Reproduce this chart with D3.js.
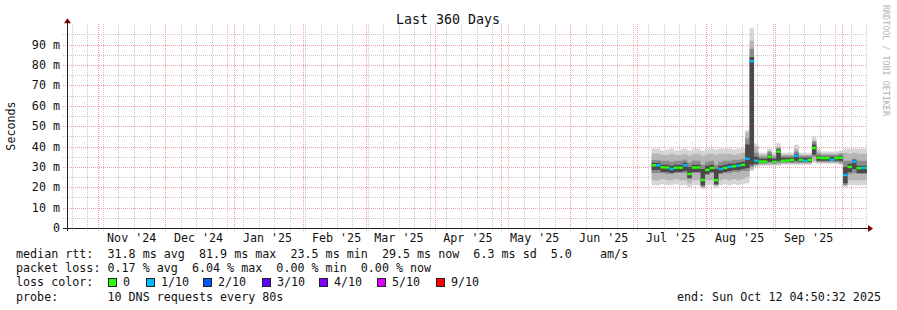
<!DOCTYPE html>
<html>
<head>
<meta charset="utf-8">
<script src="https://cdn.jsdelivr.net/npm/d3@7"></script>
<style>
  body { margin: 0; background: #fff; }
  svg { display: block; font-family: "DejaVu Sans Mono", monospace; }
  .pre { white-space: pre; }
</style>
</head>
<body>
<svg id="chart" width="897" height="310"></svg>
<script>
// two-day buckets starting 2025-07-07 12:00, values in ms
const bucketStart = Date.UTC(2025, 6, 7, 12);
const bucketDays = 2;

const median = [30.8, 30.8, 29.8, 29.7, 29.0, 29.6, 29.6, 30.8, 26.5, 29.7,
  29.7, 23.6, 28.5, 29.5, 23.5, 29.0, 29.5, 30.0, 30.3, 30.6,
  31.0, 34.0, 81.9, 33.0, 32.6, 32.6, 35.0, 32.5, 37.5, 33.0,
  33.1, 33.4, 35.5, 33.4, 33.0, 33.4, 39.3, 34.5, 34.3, 34.3,
  33.5, 34.3, 34.5, 26.0, 30.0, 32.6, 29.4, 29.5, 29.5];

// lost pings out of 10 per bucket (colour index)
const lossTenths = [0, 1, 0, 0, 1, 0, 0, 1, 0, 0,
  0, 0, 0, 0, 0, 1, 0, 1, 0, 1,
  0, 1, 1, 1, 0, 0, 0, 0, 0, 0,
  0, 0, 1, 0, 1, 0, 0, 0, 0, 0,
  1, 0, 0, 1, 0, 1, 0, 1, 0];

// smoke: outer (lightest), mid, inner and core bands
const outerLo = [21, 21, 21.5, 21, 21, 21.5, 21, 21, 20, 21,
  21, 19, 21, 21, 19.5, 21, 21.5, 21, 21.5, 21,
  21.5, 22, 28, 30, 30.5, 30.5, 30.5, 30.5, 30.5, 31,
  31, 31, 31, 31, 31, 31, 32, 31.5, 31.5, 31.5,
  31.5, 31.5, 31, 20, 21, 21, 21, 21, 21];
const outerHi = [39, 39, 38, 38.5, 39, 38, 38.5, 39, 38, 39,
  39, 38, 39, 39, 38.5, 39, 39, 39, 38.5, 39,
  39, 48, 98, 41.5, 37, 37, 39, 37, 41.6, 37,
  37, 37, 41, 37, 37, 37, 45, 39, 37.5, 37.5,
  37.5, 37.5, 38, 39, 39, 39, 39, 39, 39];
const midLo = [23.5, 23.5, 24, 23.5, 23.5, 24, 23.5, 23.5, 22, 23.5,
  23.5, 20.5, 23.5, 23.5, 21, 23.5, 24, 23.5, 24, 23.5,
  24, 25, 29, 30.5, 31, 31, 31, 31, 31, 31.5,
  31.5, 31.5, 31.5, 31.5, 31.5, 31.5, 33, 32, 32, 32,
  32, 32, 31.5, 21.5, 23.5, 23.5, 23.5, 23.5, 23.5];
const midHi = [36.5, 36.5, 36, 36, 36.5, 36, 36, 36.5, 35.5, 36.5,
  36.5, 35.5, 36.5, 36.5, 36, 36.5, 36.5, 36.5, 36, 36.5,
  37, 47, 92, 40, 36, 36, 37.5, 36, 39.5, 36,
  36, 36, 39, 36, 36, 36, 43, 37.5, 36.5, 36.5,
  36.5, 36.5, 37, 37, 36.5, 37, 36.5, 36.5, 36.5];
const innerLo = [27, 27, 27, 26.5, 26.5, 27, 27, 27, 24, 27,
  27, 20, 26, 27, 21, 26.5, 27, 27, 27.5, 27.5,
  28, 28, 30, 31, 31.5, 31.5, 32, 31.5, 32, 32,
  32, 32, 32, 32, 32, 32, 35, 32.5, 32.5, 32.5,
  32.5, 32.5, 32, 21, 26.5, 27, 26.5, 26.5, 26.5];
const innerHi = [33.4, 33.4, 33, 33, 32.5, 33, 33, 33.5, 32, 33,
  33, 31, 32.5, 33, 31, 32.5, 33, 33, 33.5, 33.5,
  34, 44, 88, 37, 35, 35, 37.5, 35, 39.5, 35.5,
  35.5, 35.5, 37.5, 35.5, 35.5, 35.5, 42.5, 36.5, 36, 36,
  36, 36, 36.5, 33, 33, 34, 33, 33, 33];
const coreLo = [28.5, 28.5, 27.5, 27.5, 27, 27.5, 27.5, 28, 24.5, 27.5,
  27.5, 21, 26.5, 27.5, 21.5, 27, 27.5, 28, 28.5, 28.5,
  29, 29.5, 31, 31.5, 32, 32, 32.5, 32, 33, 32.5,
  32.5, 32.5, 33, 32.5, 32.5, 32.5, 36, 33, 33, 33,
  33, 33, 33, 22, 27.5, 29, 27, 27, 27];
const coreHi = [32, 32, 31, 31, 30.5, 31, 31, 32, 30, 31,
  31, 29, 30.5, 31, 29, 30.5, 31, 31.5, 31.5, 32,
  32.5, 41, 84, 35, 34, 34, 36, 34, 38.5, 34.5,
  34.5, 34.5, 36.5, 34.5, 34.5, 34.5, 41, 35.5, 35, 35,
  35, 35, 35.5, 30, 31.5, 33.5, 30.5, 30.5, 30.5];

const lossLabels = ['0', '1/10', '2/10', '3/10', '4/10', '5/10', '9/10'];
const lossColors = ['#26ff00', '#00b8ff', '#0059ff', '#5e00ff', '#7e00ff', '#dd00ff', '#ff0000'];

const yTicks = [0, 10, 20, 30, 40, 50, 60, 70, 80, 90];

const legendLines = [
  'median rtt:  31.8 ms avg  81.9 ms max  23.5 ms min  29.5 ms now  6.3 ms sd  5.0    am/s',
  'packet loss: 0.17 % avg  6.04 % max  0.00 % min  0.00 % now',
  'loss color:',
  'probe:       10 DNS requests every 80s'
];
const endLabel = 'end: Sun Oct 12 04:50:32 2025';

const svg = d3.select('#chart');
const plot = { left: 67, right: 867, top: 24.3, bottom: 228 };

const x = d3.scaleUtc()
  .domain([new Date(Date.UTC(2024, 9, 17, 22, 30)), new Date(Date.UTC(2025, 9, 12, 5, 30))])
  .range([plot.left, plot.right]);
const y = d3.scaleLinear().domain([0, 100]).range([plot.bottom, plot.top]);

const dayMs = 86400000;
const rows = median.map((m, i) => ({
  t: new Date(bucketStart + i * bucketDays * dayMs),
  med: m, loss: lossTenths[i],
  oLo: outerLo[i], oHi: outerHi[i],
  mLo: midLo[i], mHi: midHi[i],
  iLo: innerLo[i], iHi: innerHi[i],
  cLo: coreLo[i], cHi: coreHi[i]
}));
// closing point for step curves
const last = rows[rows.length - 1];
const stepRows = rows.concat([Object.assign({}, last, { t: new Date(+last.t + bucketDays * dayMs) })]);

svg.append('defs').append('clipPath').attr('id', 'plotclip')
  .append('rect')
  .attr('x', plot.left).attr('y', plot.top)
  .attr('width', plot.right - plot.left).attr('height', plot.bottom - plot.top);

// grid
const grid = svg.append('g').attr('shape-rendering', 'crispEdges');
const minorY = d3.range(5, 100, 5).filter(v => v % 10 !== 0);
grid.selectAll('.hminor').data(minorY).join('line')
  .attr('x1', plot.left - 4).attr('x2', plot.right)
  .attr('y1', d => Math.round(y(d)) + 0.5).attr('y2', d => Math.round(y(d)) + 0.5)
  .attr('stroke', '#c8c8c8').attr('stroke-dasharray', '1,1');
const weeks = d3.utcSunday.range(x.domain()[0], x.domain()[1]);
grid.selectAll('.vminor').data(weeks).join('line')
  .attr('x1', d => Math.round(x(d)) + 0.5).attr('x2', d => Math.round(x(d)) + 0.5)
  .attr('y1', plot.bottom + 3).attr('y2', plot.top)
  .attr('stroke', '#c8c8c8').attr('stroke-dasharray', '1,1');
grid.selectAll('.hmajor').data(yTicks.slice(1)).join('line')
  .attr('x1', plot.left - 4).attr('x2', plot.right)
  .attr('y1', d => Math.round(y(d)) + 0.5).attr('y2', d => Math.round(y(d)) + 0.5)
  .attr('stroke', '#f0a0a0').attr('stroke-dasharray', '1,1');
const months = d3.utcMonth.range(x.domain()[0], x.domain()[1]);
grid.selectAll('.vmajor').data(months).join('line')
  .attr('x1', d => Math.round(x(d)) + 0.5).attr('x2', d => Math.round(x(d)) + 0.5)
  .attr('y1', plot.bottom + 3).attr('y2', plot.top)
  .attr('stroke', '#f0a0a0').attr('stroke-dasharray', '1,1');

// smoke
const smoke = svg.append('g').attr('clip-path', 'url(#plotclip)');
const band = (lo, hi) => d3.area()
  .curve(d3.curveStepAfter)
  .x(d => x(d.t)).y0(d => y(d[lo])).y1(d => y(d[hi]));
smoke.append('path').datum(stepRows).attr('d', band('oLo', 'oHi')).attr('fill', '#d6d6d6');
smoke.append('path').datum(stepRows).attr('d', band('mLo', 'mHi')).attr('fill', '#b6b6b6');
smoke.append('path').datum(stepRows).attr('d', band('iLo', 'iHi')).attr('fill', '#8c8c8c');
smoke.append('path').datum(stepRows).attr('d', band('cLo', 'cHi')).attr('fill', '#4a4a4a');

// median, coloured by loss
smoke.selectAll('.med').data(rows).join('rect')
  .attr('x', d => x(d.t))
  .attr('width', (d, i) => x(stepRows[i + 1].t) - x(d.t))
  .attr('y', d => y(d.med) - 1.2)
  .attr('height', 2.4)
  .attr('fill', d => lossColors[d.loss]);

// axes
const axis = svg.append('g').attr('shape-rendering', 'crispEdges');
axis.append('line').attr('x1', plot.left - 4).attr('x2', plot.right + 2)
  .attr('y1', plot.bottom + 0.5).attr('y2', plot.bottom + 0.5).attr('stroke', '#202020');
axis.append('line').attr('x1', plot.left + 0.5).attr('x2', plot.left + 0.5)
  .attr('y1', plot.bottom + 3).attr('y2', plot.top - 2).attr('stroke', '#202020');
svg.append('path').attr('d', `M${plot.left - 3},${plot.top - 1}L${plot.left + 0.5},${plot.top - 6}L${plot.left + 4},${plot.top - 1}Z`)
  .attr('fill', '#7f0000');
svg.append('path').attr('d', `M${plot.right + 1},${plot.bottom - 3}L${plot.right + 6},${plot.bottom + 0.5}L${plot.right + 1},${plot.bottom + 4}Z`)
  .attr('fill', '#7f0000');

// y labels
svg.append('g').selectAll('text').data(yTicks).join('text')
  .attr('x', 60).attr('y', d => y(d) + 4)
  .attr('text-anchor', 'end').attr('font-size', '11.7px').attr('fill', '#111')
  .attr('class', 'pre')
  .text(d => d === 0 ? '0' : `${d} m`);

// x labels, centred mid-month
const fmt = d3.utcFormat("%b '%y");
const labelMonths = months.map(m => new Date(+m + 15 * dayMs))
  .filter(d => d > x.domain()[0] && d < x.domain()[1]);
svg.append('g').selectAll('text').data(labelMonths).join('text')
  .attr('x', d => x(d)).attr('y', 242)
  .attr('text-anchor', 'middle').attr('font-size', '11.7px').attr('fill', '#111')
  .attr('class', 'pre')
  .text(d => fmt(new Date(+d - 15 * dayMs)));

// titles
svg.append('text').attr('x', 448).attr('y', 24).attr('text-anchor', 'middle')
  .attr('font-size', '13.3px').attr('fill', '#111').text('Last 360 Days');
svg.append('text').attr('transform', 'translate(15,126) rotate(-90)')
  .attr('text-anchor', 'middle').attr('font-size', '11.7px').attr('fill', '#111').text('Seconds');
svg.append('text').attr('transform', 'translate(883,5) rotate(90)')
  .attr('font-size', '8.4px').attr('fill', '#b4b4b4').text('RRDTOOL / TOBI OETIKER');

// legend
const leg = svg.append('g').attr('font-size', '11.7px').attr('fill', '#111');
leg.selectAll('text').data(legendLines).join('text')
  .attr('class', 'pre').attr('x', 16).attr('y', (d, i) => 258 + i * 14.2)
  .text(d => d);
const lossX = [108, 146, 203, 262, 319, 377, 436];
const sw = leg.selectAll('.sw').data(lossLabels).join('g')
  .attr('transform', (d, i) => `translate(${lossX[i]},278)`);
sw.append('rect').attr('x', 0.5).attr('y', 0.5).attr('width', 8).attr('height', 8)
  .attr('fill', (d, i) => lossColors[i]).attr('stroke', '#222').attr('shape-rendering', 'crispEdges');
sw.append('text').attr('x', 15).attr('y', 8.4).text(d => d);
leg.append('text').attr('x', 881).attr('y', 300.6).attr('text-anchor', 'end')
  .attr('class', 'pre').text(endLabel);
</script>
</body>
</html>
